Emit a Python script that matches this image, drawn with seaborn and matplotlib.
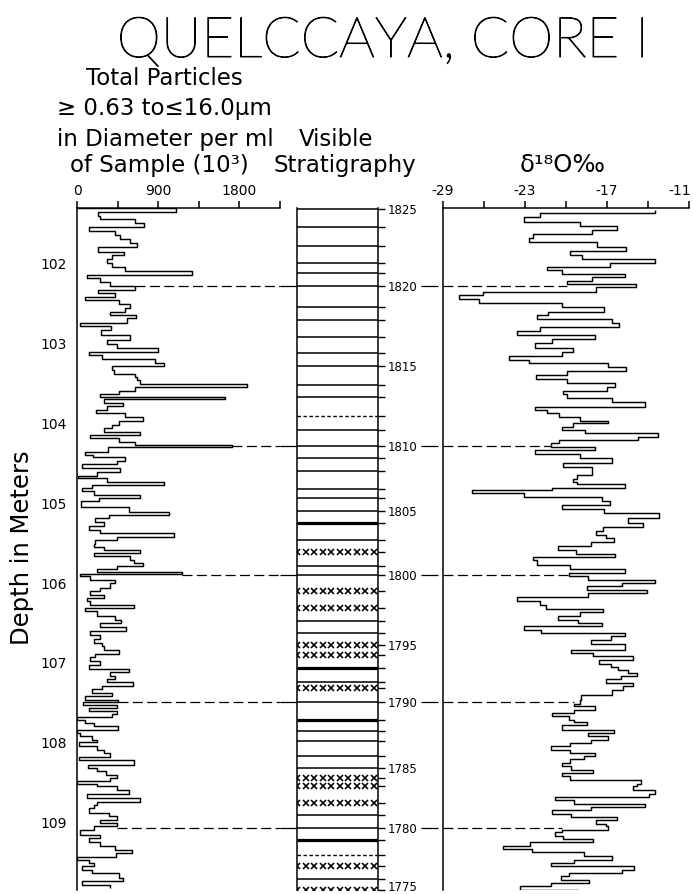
import numpy as np
import pandas as pd
import matplotlib
matplotlib.use("Agg")
import matplotlib.pyplot as plt
import matplotlib.transforms as mtrans
import matplotlib.patheffects as pe_
import seaborn as sns

# ---------------- data ----------------
depth_ticks = [102, 103, 104, 105, 106, 107, 108, 109]
particle_ticks = [0, 450, 900, 1350, 1800, 2250]
particle_ticklabels = ["0", "", "900", "", "1800", ""]
d18o_ticks = [-29, -26, -23, -20, -17, -14, -11]
d18o_ticklabels = ["-29", "", "-23", "", "-17", "", "-11"]

# total particles (10^3 per ml): sample boundaries (depth, m) and values
particle_edges = [
    101.304, 101.346, 101.400, 101.438, 101.484, 101.534, 101.588, 101.638, 101.692, 101.734,
    101.784, 101.847, 101.893, 101.939, 101.985, 102.043, 102.089, 102.139, 102.181, 102.222,
    102.277, 102.327, 102.369, 102.410, 102.452, 102.502, 102.556, 102.598, 102.640, 102.682,
    102.736, 102.778, 102.828, 102.890, 102.953, 103.003, 103.057, 103.099, 103.141, 103.191,
    103.237, 103.278, 103.329, 103.379, 103.412, 103.454, 103.504, 103.537, 103.587, 103.629,
    103.663, 103.696, 103.738, 103.779, 103.829, 103.871, 103.921, 103.963, 104.013, 104.059,
    104.101, 104.143, 104.188, 104.226, 104.268, 104.297, 104.351, 104.393, 104.426, 104.468,
    104.510, 104.552, 104.614, 104.656, 104.685, 104.727, 104.769, 104.810, 104.852, 104.894,
    104.936, 104.977, 105.048, 105.103, 105.144, 105.186, 105.228, 105.290, 105.332, 105.374,
    105.416, 105.466, 105.508, 105.549, 105.591, 105.624, 105.666, 105.716, 105.750, 105.783,
    105.825, 105.858, 105.887, 105.917, 105.958, 106.000, 106.063, 106.104, 106.146, 106.188,
    106.230, 106.271, 106.313, 106.355, 106.417, 106.459, 106.501, 106.551, 106.597, 106.647,
    106.701, 106.751, 106.793, 106.843, 106.889, 106.931, 106.981, 107.023, 107.073, 107.115,
    107.160, 107.202, 107.236, 107.286, 107.327, 107.377, 107.419, 107.461, 107.494, 107.528,
    107.565, 107.607, 107.640, 107.682, 107.711, 107.753, 107.795, 107.845, 107.878, 107.920,
    107.962, 107.995, 108.045, 108.087, 108.129, 108.179, 108.221, 108.275, 108.317, 108.358,
    108.400, 108.442, 108.484, 108.513, 108.546, 108.596, 108.638, 108.692, 108.747, 108.780,
    108.822, 108.880, 108.922, 108.964, 109.005, 109.047, 109.089, 109.151, 109.193, 109.247,
    109.298, 109.339, 109.381, 109.431, 109.473, 109.506, 109.548, 109.590, 109.631, 109.694,
    109.736, 109.777, 109.819,
]
particle_values = [
    1092, 233, 259, 648, 740, 130, 426, 481, 592, 666,
    233, 525, 389, 333, 389, 537, 1277, 111, 259, 370,
    648, 229, 426, 93, 463, 592, 537, 370, 659, 555,
    30, 377, 266, 592, 333, 444, 899, 130, 278, 870,
    969, 389, 407, 648, 666, 696, 1880, 648, 463, 259,
    1635, 303, 511, 333, 215, 537, 733, 463, 389, 296,
    703, 148, 463, 648, 1713, 344, 93, 178, 529, 444,
    56, 474, 222, 7, 333, 962, 167, 56, 185, 703,
    241, 44, 574, 1018, 352, 204, 296, 130, 259, 1073,
    444, 204, 185, 296, 696, 185, 592, 629, 733, 444,
    222, 1166, 37, 141, 426, 370, 259, 148, 296, 111,
    148, 629, 93, 222, 426, 488, 259, 548, 148, 259,
    185, 278, 296, 463, 204, 148, 259, 130, 574, 370,
    426, 333, 622, 278, 167, 389, 93, 455, 67, 444,
    130, 444, 389, 0, 93, 185, 455, 0, 37, 167,
    222, 19, 222, 296, 370, 19, 629, 118, 222, 326,
    444, 370, 0, 222, 444, 574, 111, 696, 222, 185,
    130, 352, 444, 259, 444, 185, 30, 259, 130, 259,
    426, 611, 437, 0, 130, 185, 56, 167, 463, 511,
    56, 370,
]

# delta 18O (per mil): sample boundaries (depth, m) and values
d18o_edges = [
    101.325, 101.367, 101.417, 101.471, 101.521, 101.575, 101.626, 101.680, 101.730, 101.784,
    101.838, 101.889, 101.939, 101.985, 102.035, 102.076, 102.126, 102.168, 102.210, 102.252,
    102.293, 102.356, 102.389, 102.444, 102.494, 102.544, 102.598, 102.640, 102.694, 102.744,
    102.786, 102.836, 102.890, 102.945, 102.995, 103.057, 103.107, 103.153, 103.203, 103.245,
    103.295, 103.341, 103.391, 103.441, 103.496, 103.537, 103.587, 103.629, 103.683, 103.733,
    103.788, 103.829, 103.871, 103.913, 103.963, 103.996, 104.038, 104.080, 104.122, 104.163,
    104.205, 104.247, 104.289, 104.330, 104.380, 104.435, 104.489, 104.547, 104.643, 104.693,
    104.727, 104.756, 104.810, 104.831, 104.873, 104.915, 104.977, 105.019, 105.073, 105.123,
    105.186, 105.249, 105.299, 105.353, 105.395, 105.437, 105.491, 105.541, 105.591, 105.633,
    105.674, 105.716, 105.771, 105.825, 105.875, 105.917, 105.958, 106.000, 106.042, 106.084,
    106.125, 106.175, 106.230, 106.271, 106.326, 106.367, 106.417, 106.459, 106.501, 106.543,
    106.584, 106.626, 106.668, 106.710, 106.760, 106.843, 106.877, 106.918, 106.960, 107.010,
    107.052, 107.094, 107.127, 107.160, 107.202, 107.252, 107.294, 107.344, 107.398, 107.461,
    107.511, 107.544, 107.586, 107.628, 107.670, 107.711, 107.745, 107.774, 107.845, 107.878,
    107.920, 107.962, 108.004, 108.045, 108.087, 108.129, 108.171, 108.204, 108.254, 108.296,
    108.338, 108.379, 108.421, 108.463, 108.513, 108.546, 108.596, 108.638, 108.680, 108.722,
    108.763, 108.805, 108.847, 108.889, 108.930, 108.972, 109.014, 109.047, 109.089, 109.123,
    109.164, 109.206, 109.247, 109.289, 109.331, 109.373, 109.423, 109.464, 109.506, 109.548,
    109.590, 109.631, 109.673, 109.715, 109.757, 109.798, 109.840, 109.861,
]
d18o_values = [
    -13.5, -21.9, -23.1, -19.0, -16.3, -18.1, -22.4, -22.7, -17.7, -15.6,
    -19.7, -18.8, -13.5, -16.8, -21.4, -20.3, -15.7, -18.1, -19.9, -14.9,
    -17.8, -26.1, -27.8, -26.4, -20.3, -17.2, -21.3, -22.1, -16.6, -16.1,
    -21.9, -23.6, -17.9, -21.0, -22.3, -19.5, -20.3, -24.2, -22.7, -16.9,
    -15.6, -19.9, -22.2, -19.9, -16.4, -17.0, -20.2, -19.9, -16.6, -14.2,
    -22.3, -21.4, -20.5, -19.0, -16.9, -19.5, -20.3, -18.6, -13.3, -14.7,
    -20.5, -21.1, -17.9, -22.3, -19.0, -16.6, -20.2, -18.1, -19.2, -19.5,
    -19.2, -15.7, -21.0, -26.9, -23.1, -17.4, -16.8, -20.3, -17.2, -13.2,
    -15.5, -14.4, -17.3, -17.8, -17.1, -16.5, -18.2, -20.6, -19.3, -16.4,
    -22.4, -22.1, -19.7, -15.7, -19.8, -18.4, -13.5, -15.9, -18.5, -14.1,
    -18.4, -23.6, -21.9, -21.5, -17.3, -19.0, -20.6, -19.1, -17.4, -23.1,
    -21.8, -15.7, -16.7, -18.2, -15.7, -19.6, -18.0, -15.1, -17.6, -16.7,
    -16.2, -15.5, -14.8, -16.0, -17.1, -15.1, -15.8, -16.6, -18.9, -19.0,
    -19.4, -17.9, -19.4, -21.0, -19.8, -19.4, -18.5, -20.3, -16.5, -18.4,
    -16.9, -18.2, -19.7, -21.1, -19.7, -17.9, -18.7, -19.7, -20.3, -19.6,
    -18.0, -20.3, -19.7, -14.5, -14.8, -15.1, -13.5, -13.9, -20.8, -19.4,
    -14.2, -18.2, -21.0, -19.6, -16.3, -17.8, -17.1, -16.9, -20.3, -20.8,
    -20.2, -18.0, -22.6, -24.6, -22.5, -18.7, -16.6, -19.4, -21.1, -15.0,
    -15.9, -19.8, -20.4, -18.3, -21.1, -23.4, -19.1,
]

# visible stratigraphy: year of each annual layer, its depth, and the layer mark
years = list(range(1825, 1774, -1))
year_depths = [
    101.316, 101.534, 101.776, 101.985, 102.118, 102.273, 102.536, 102.702, 102.912, 103.112,
    103.278, 103.516, 103.663, 103.905, 104.080, 104.276, 104.427, 104.593, 104.819, 104.935,
    105.094, 105.248, 105.457, 105.604, 105.783, 105.904, 106.096, 106.313, 106.480, 106.626,
    106.772, 106.906, 107.064, 107.244, 107.314, 107.495, 107.711, 107.858, 107.983, 108.162,
    108.316, 108.441, 108.546, 108.754, 108.901, 109.067, 109.214, 109.402, 109.548, 109.706,
    109.840,
]
# L = solid line, W = heavy/double line, D = dashed line, X = row of crosses
layer_marks = list(
    "LLLLLLLLLLLLLDLLLLLLLWLXLLXXLLXXWLXLWLLLLXXXLLWDXLX"
)
event_years = [1820, 1810, 1800, 1790, 1780]

# ---------------- style ----------------
sns.set_style("white")
plt.rcParams["font.family"] = ["DejaVu Sans"]
plt.rcParams["axes.linewidth"] = 1.1
plt.rcParams["axes.edgecolor"] = "black"
plt.rcParams["text.color"] = "black"
plt.rcParams["xtick.color"] = "black"
plt.rcParams["ytick.color"] = "black"
plt.rcParams["lines.solid_capstyle"] = "butt"

W, H = 694, 894
fig = plt.figure(figsize=(W / 100, H / 100), dpi=100)


def rect(x0, y0, x1, y1):
    return [x0 / W, 1 - y1 / H, (x1 - x0) / W, (y1 - y0) / H]


ax_l = fig.add_axes(rect(77, 208, 280, 890))
ax_m = fig.add_axes(rect(297, 208, 378, 890))
ax_r = fig.add_axes(rect(443, 208, 689, 890))
ylim = (109.845, 101.30)


def step_frame(edges, vals, start=None):
    e = np.asarray(edges, float)
    v = np.asarray(vals, float)
    y = np.repeat(e, 2)[1:-1]
    x = np.repeat(v, 2)
    if start is not None:
        x = np.r_[start, x]
        y = np.r_[e[0], y]
    return pd.DataFrame({"value": x, "depth": y})


# ---------- left: particles ----------
df_p = step_frame(particle_edges, particle_values, start=0)
sns.lineplot(data=df_p, x="value", y="depth", sort=False, estimator=None,
             color="black", lw=1.05, ax=ax_l)
ax_l.set_xlim(0, 2250)
ax_l.set_ylim(*ylim)
ax_l.xaxis.tick_top()
ax_l.set_xticks(particle_ticks)
ax_l.set_xticklabels(particle_ticklabels)
ax_l.set_yticks(depth_ticks)
ax_l.set_yticklabels([str(d) for d in depth_ticks])
ax_l.tick_params(axis="x", direction="out", length=5, width=1.1, labelsize=10, pad=2)
ax_l.tick_params(axis="y", direction="out", length=6, width=1.1, labelsize=10, pad=1)
for s in ("right", "bottom"):
    ax_l.spines[s].set_visible(False)
ax_l.set_xlabel("")
ax_l.set_ylabel("")

# ---------- middle: stratigraphy ----------
ax_m.set_xlim(0, 1)
ax_m.set_ylim(*ylim)
ax_m.set_xticks([])
ax_m.yaxis.tick_right()
ax_m.set_yticks(year_depths)
ax_m.set_yticklabels([str(y) if y % 5 == 0 else "" for y in years])
ax_m.tick_params(axis="y", direction="out", length=5, width=1.0, labelsize=8.5, pad=2)
for s in ("top", "bottom"):
    ax_m.spines[s].set_visible(False)
# keep the last year label inside the picture
for lab, y in zip(ax_m.get_yticklabels(), years):
    if y == years[-1]:
        lab.set_transform(lab.get_transform() +
                          mtrans.ScaledTranslation(0, 4 / 100, fig.dpi_scale_trans))
cross_x = np.linspace(0.0, 0.95, 10)
for d, mk in zip(year_depths, layer_marks):
    if mk == "L":
        ax_m.plot([0, 1], [d, d], color="black", lw=1.1)
    elif mk == "W":
        ax_m.plot([0, 1], [d, d], color="black", lw=2.3)
    elif mk == "D":
        ax_m.plot([0, 1], [d, d], color="black", lw=1.0, dashes=(2.5, 1.8))
    else:
        ax_m.plot(cross_x, [d] * len(cross_x), ls="none", marker="x",
                  ms=3.9, mew=1.15, color="black")

# ---------- right: d18O ----------
df_o = step_frame(d18o_edges, d18o_values)
sns.lineplot(data=df_o, x="value", y="depth", sort=False, estimator=None,
             color="black", lw=1.05, ax=ax_r)
ax_r.set_xlim(-29, -11)
ax_r.set_ylim(*ylim)
ax_r.xaxis.tick_top()
ax_r.set_xticks(d18o_ticks)
ax_r.set_xticklabels(d18o_ticklabels)
ax_r.set_yticks(depth_ticks)
ax_r.set_yticklabels([])
ax_r.tick_params(axis="x", direction="out", length=5, width=1.1, labelsize=10, pad=2)
ax_r.tick_params(axis="y", direction="out", length=5, width=1.1)
for s in ("right", "bottom"):
    ax_r.spines[s].set_visible(False)
ax_r.set_xlabel("")
ax_r.set_ylabel("")
# keep the right-most label inside the picture
last = ax_r.get_xticklabels()[-1]
last.set_transform(last.get_transform() +
                   mtrans.ScaledTranslation(-9 / 100, 0, fig.dpi_scale_trans))

# ---------- event tie lines ----------
pe = np.asarray(particle_edges)
pv = np.asarray(particle_values)
oe = np.asarray(d18o_edges)
ov = np.asarray(d18o_values)
tl = mtrans.blended_transform_factory(ax_l.transAxes, ax_l.transData)
tr = mtrans.blended_transform_factory(ax_r.transAxes, ax_r.transData)
for yr in event_years:
    d = year_depths[years.index(yr)]
    i = np.searchsorted(pe, d) - 1
    start = pv[max(i - 1, 0):i + 2].max()
    ax_l.plot([start, 2250], [d, d], color="black", lw=0.9, dashes=(8, 3.5),
              clip_on=False)
    ax_l.plot([1.0, 1.084], [d, d], color="black", lw=0.9, transform=tl, clip_on=False)
    j = np.searchsorted(oe, d) - 1
    end = ov[max(j - 1, 0):j + 2].min()
    ax_r.plot([-29, end], [d, d], color="black", lw=0.9, dashes=(8, 3.5), clip_on=False)
    ax_r.plot([-0.088, -0.02], [d, d], color="black", lw=0.9, transform=tr, clip_on=False)

# ---------- text ----------
def ftext(x, y, s, **kw):
    return fig.text(x / W, 1 - y / H, s, **kw)


ftext(383, 57, "QUELCCAYA, CORE I", ha="center", va="baseline", fontsize=40.5,
      family=["Lato", "DejaVu Sans"], fontweight="light",
      path_effects=[pe_.withStroke(linewidth=0.7, foreground="black")])
hdr = 16.5
ftext(86, 85, "Total Particles", ha="left", va="baseline", fontsize=hdr)
ftext(57, 115, "\u2265 0.63 to\u226416.0\u03bcm", ha="left", va="baseline", fontsize=hdr)
ftext(57, 146, "in Diameter per ml", ha="left", va="baseline", fontsize=hdr)
ftext(70, 172, "of Sample (10\u00b3)", ha="left", va="baseline", fontsize=hdr)
ftext(336, 146, "Visible", ha="center", va="baseline", fontsize=hdr)
ftext(345, 172, "Stratigraphy", ha="center", va="baseline", fontsize=hdr)
ftext(563, 172, "\u03b4\u00b9\u2078O\u2030", ha="center", va="baseline", fontsize=17.5)
ftext(22, 548, "Depth in Meters", ha="center", va="center", rotation=90, fontsize=17.5)

fig.savefig("out.png", dpi=100)
